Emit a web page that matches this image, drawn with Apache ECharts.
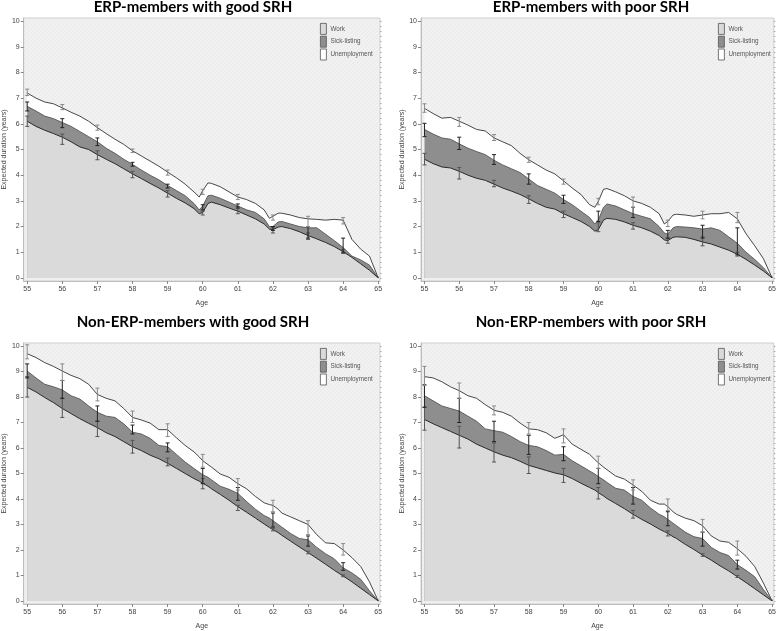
<!DOCTYPE html>
<html><head><meta charset="utf-8">
<script src="https://cdn.jsdelivr.net/npm/echarts@6/dist/echarts.min.js"></script>
<style>html,body{margin:0;padding:0;background:#fff}#c{width:779px;height:631px}</style>
</head><body><div id="c"></div>
<script>
// ---------- data ----------
const ages = [55,55.25,55.5,55.75,56,56.25,56.5,56.75,57,57.25,57.5,57.75,58,58.25,58.5,58.75,59,59.25,59.5,59.75,59.9,60,60.15,60.25,60.5,60.75,61,61.25,61.5,61.75,61.9,62,62.15,62.25,62.5,62.75,63,63.25,63.5,63.75,64,64.25,64.5,64.75,65];
const errAges = [55,56,57,58,59,60,61,62,63,64];
const xTickLabels = [55,56,57,58,59,60,61,62,63,64,65];
const yTickLabels = [0,1,2,3,4,5,6,7,8,9,10];
const titles = ['ERP-members with good SRH','ERP-members with poor SRH','Non-ERP-members with good SRH','Non-ERP-members with poor SRH'];
const stateNames = ['Work','Sick-listing','Unemployment'];

// cumulative curves: Work, Work+Sick-listing, Work+Sick-listing+Unemployment
const p1Work  = [6.1,5.9,5.75,5.62,5.48,5.3,5.1,5.0,4.8,4.62,4.45,4.25,4.05,3.87,3.68,3.5,3.3,3.1,2.92,2.7,2.5,2.55,2.9,2.95,2.85,2.72,2.6,2.45,2.3,2.1,1.9,1.88,1.98,2.0,1.92,1.8,1.65,1.52,1.38,1.22,1.02,0.8,0.55,0.3,0];
const p1Sick  = [6.68,6.5,6.3,6.2,6.05,5.9,5.7,5.5,5.3,5.05,4.85,4.62,4.42,4.2,4.0,3.82,3.6,3.4,3.2,2.9,2.65,2.8,3.2,3.22,3.1,2.95,2.8,2.65,2.55,2.3,2.0,2.0,2.18,2.2,2.1,2.0,1.95,1.95,1.7,1.45,1.18,0.85,0.7,0.5,0];
const p1Unemp = [7.2,7.0,6.85,6.78,6.62,6.45,6.3,6.1,5.85,5.62,5.4,5.2,4.95,4.75,4.55,4.35,4.12,3.9,3.65,3.35,3.15,3.4,3.7,3.68,3.55,3.35,3.15,3.05,2.9,2.65,2.32,2.4,2.52,2.52,2.45,2.35,2.3,2.28,2.25,2.28,2.25,1.5,1.12,0.85,0];

const p2Work  = [4.62,4.45,4.32,4.28,4.15,4.0,3.88,3.8,3.65,3.5,3.38,3.25,3.08,2.9,2.75,2.68,2.5,2.35,2.2,2.0,1.82,1.88,2.25,2.32,2.28,2.18,2.05,1.95,1.82,1.65,1.48,1.45,1.58,1.6,1.58,1.5,1.4,1.32,1.2,1.08,0.92,0.72,0.5,0.27,0];
const p2Sick  = [5.78,5.6,5.45,5.4,5.22,5.05,4.92,4.8,4.58,4.4,4.25,4.1,3.85,3.6,3.45,3.3,3.05,2.85,2.6,2.35,2.1,2.25,2.75,2.88,2.8,2.65,2.5,2.4,2.3,2.0,1.75,1.7,1.95,2.0,1.98,1.95,1.9,1.95,1.85,1.6,1.35,1.0,0.72,0.4,0];
const p2Unemp = [6.6,6.4,6.22,6.25,6.1,5.95,5.78,5.72,5.45,5.3,5.15,4.85,4.6,4.4,4.2,4.05,3.78,3.5,3.25,2.85,2.75,2.98,3.45,3.48,3.35,3.2,3.0,2.9,2.75,2.5,2.1,2.2,2.45,2.48,2.45,2.4,2.45,2.5,2.5,2.55,2.3,1.72,1.25,0.75,0];

const p3Work  = [8.38,8.2,7.98,7.78,7.55,7.35,7.15,6.97,6.8,6.6,6.45,6.25,6.05,5.9,5.72,5.58,5.4,5.2,5.0,4.8,4.7,4.62,4.5,4.4,4.18,3.95,3.7,3.48,3.25,3.02,2.88,2.8,2.68,2.58,2.35,2.12,1.9,1.67,1.44,1.2,0.98,0.75,0.5,0.25,0];
const p3Sick  = [9.02,8.75,8.5,8.4,8.28,8.05,7.92,7.65,7.4,7.25,7.2,6.95,6.62,6.55,6.38,6.1,6.05,5.75,5.45,5.2,5.05,4.95,4.85,4.75,4.5,4.38,4.22,3.9,3.6,3.35,3.25,3.15,3.0,2.9,2.65,2.45,2.4,2.1,1.85,1.65,1.3,1.1,0.85,0.4,0];
const p3Unemp = [9.7,9.55,9.35,9.2,9.02,8.85,8.72,8.5,8.1,7.95,7.85,7.55,7.2,7.1,6.98,6.72,6.72,6.4,6.1,5.85,5.65,5.5,5.35,5.25,4.98,4.85,4.6,4.4,4.1,3.85,3.78,3.75,3.6,3.45,3.3,3.15,3.0,2.6,2.28,2.25,2.0,1.7,1.35,0.75,0];

const p4Work  = [7.12,6.95,6.8,6.65,6.5,6.35,6.15,6.0,5.85,5.72,5.62,5.48,5.32,5.22,5.12,5.02,4.95,4.8,4.62,4.45,4.35,4.25,4.12,4.02,3.82,3.62,3.4,3.2,3.02,2.82,2.72,2.65,2.52,2.45,2.22,2.02,1.8,1.6,1.38,1.18,0.95,0.72,0.48,0.24,0];
const p4Sick  = [8.05,7.85,7.65,7.55,7.45,7.25,7.05,6.75,6.68,6.62,6.45,6.25,6.1,6.05,5.9,5.72,5.75,5.5,5.3,5.1,4.98,4.88,4.75,4.65,4.42,4.35,4.1,3.95,3.65,3.4,3.3,3.2,3.05,2.95,2.7,2.52,2.45,2.1,1.9,1.78,1.42,1.2,0.95,0.45,0];
const p4Unemp = [8.8,8.75,8.6,8.4,8.25,8.05,7.95,7.7,7.48,7.4,7.25,6.98,6.75,6.72,6.6,6.38,6.52,6.15,5.95,5.75,5.55,5.42,5.25,5.15,4.9,4.78,4.55,4.3,3.95,3.8,3.8,3.7,3.5,3.4,3.25,3.15,2.95,2.55,2.35,2.3,2.05,1.75,1.35,0.7,0];

// error bars [low, high] at errAges
const p1WorkErr  = [[5.9,6.3],[5.2,5.6],[4.6,4.95],[3.9,4.15],[3.15,3.4],[2.45,2.6],[2.5,2.78],[1.75,1.95],[1.5,1.75],[0.95,1.1]];
const p1SickErr  = [[6.5,6.85],[5.85,6.2],[5.15,5.45],[4.35,4.5],[3.5,3.65],[2.65,2.85],[2.72,2.88],[1.85,2.0],[1.55,2.0],[1.0,1.55]];
const p1UnempErr = [[7.1,7.35],[6.55,6.75],[5.75,5.95],[4.88,5.02],[4.0,4.2],[3.25,3.45],[3.05,3.25],[2.25,2.45],[2.0,2.4],[2.1,2.35]];
const p2WorkErr  = [[4.4,4.85],[3.85,4.3],[3.55,3.8],[2.9,3.2],[2.35,2.6],[1.8,2.15],[1.9,2.15],[1.35,1.55],[1.25,1.6],[0.85,1.0]];
const p2SickErr  = [[5.5,6.02],[5.0,5.48],[4.42,4.8],[3.65,4.05],[2.9,3.22],[2.2,2.6],[2.35,2.75],[1.55,1.85],[1.55,2.05],[0.9,1.95]];
const p2UnempErr = [[6.45,6.78],[5.9,6.25],[5.35,5.58],[4.5,4.7],[3.65,3.85],[2.85,3.1],[2.75,3.15],[2.0,2.25],[2.3,2.6],[2.15,2.55]];
const p3WorkErr  = [[8.0,8.8],[7.2,7.95],[6.45,7.05],[5.8,6.3],[5.3,5.6],[4.4,4.8],[3.55,3.75],[2.75,2.85],[1.85,1.95],[0.95,1.02]];
const p3SickErr  = [[8.75,9.3],[7.95,8.65],[7.05,7.65],[6.55,6.9],[5.85,6.2],[4.6,5.2],[3.95,4.45],[2.9,3.45],[2.15,2.55],[1.2,1.5]];
const p3UnempErr = [[9.5,10.05],[8.65,9.3],[7.85,8.35],[7.0,7.45],[6.45,6.95],[5.25,5.75],[4.35,4.8],[3.5,3.95],[2.6,3.15],[1.8,2.25]];
const p4WorkErr  = [[6.7,7.6],[6.0,6.85],[5.45,6.2],[5.0,5.65],[4.65,5.2],[4.0,4.45],[3.25,3.55],[2.55,2.75],[1.75,1.85],[0.92,1.0]];
const p4SickErr  = [[7.6,8.48],[7.0,7.95],[6.25,7.05],[5.75,6.5],[5.5,6.05],[4.6,5.2],[3.8,4.45],[2.95,3.5],[2.15,2.7],[1.25,1.6]];
const p4UnempErr = [[8.45,9.2],[7.95,8.55],[7.3,7.65],[6.55,7.0],[6.2,6.75],[5.2,5.68],[4.35,4.75],[3.55,4.0],[2.7,3.2],[1.8,2.35]];

// ---------- build ----------
const panels = [
  {curves:[p1Work,p1Sick,p1Unemp], errs:[p1WorkErr,p1SickErr,p1UnempErr]},
  {curves:[p2Work,p2Sick,p2Unemp], errs:[p2WorkErr,p2SickErr,p2UnempErr]},
  {curves:[p3Work,p3Sick,p3Unemp], errs:[p3WorkErr,p3SickErr,p3UnempErr]},
  {curves:[p4Work,p4Sick,p4Unemp], errs:[p4WorkErr,p4SickErr,p4UnempErr]}
];
const gridPos = [
  {left:22, top:18, width:358, height:263},
  {left:421, top:18, width:355, height:263},
  {left:22, top:343, width:358, height:264},
  {left:421, top:343, width:355, height:264}
];
const titlePos = [{x:193,y:0},{x:591,y:0},{x:193,y:315},{x:591,y:315}];
const legendPos = [{x:320,y:23},{x:718,y:23},{x:320,y:348},{x:718,y:348}];

const fillColors = ['#dadada','#8e8e8e','#ffffff'];
const lineColors = ['#2a2a2a','#555555','#333333'];
const errColors  = ['#555555','#222222','#8a8a8a'];

const minorX = []; for (let v = 55; v <= 65.0001; v += 0.2) minorX.push(+v.toFixed(1));
const minorY = []; for (let v = 0; v <= 10.0001; v += 0.2) minorY.push(+v.toFixed(1));

function bgPattern(){
  const c = document.createElement('canvas'); c.width = 4; c.height = 4;
  const g = c.getContext('2d');
  g.fillStyle = '#f1f1f1'; g.fillRect(0,0,4,4);
  g.fillStyle = '#eaeaea';
  for (let i=0;i<4;i++) g.fillRect(i,3-i,1,1);
  return {image:c, repeat:'repeat'};
}
const pat = bgPattern();

function errRender(params, api){
  const x = api.value(0), lo = api.value(1), hi = api.value(2);
  const a = api.coord([x, lo]), b = api.coord([x, hi]);
  const w = 2;
  const st = {stroke: api.visual('color'), lineWidth: 1};
  return {type:'group', children:[
    {type:'line', shape:{x1:a[0],y1:a[1],x2:b[0],y2:b[1]}, style:st},
    {type:'line', shape:{x1:a[0]-w,y1:a[1],x2:a[0]+w,y2:a[1]}, style:st},
    {type:'line', shape:{x1:b[0]-w,y1:b[1],x2:b[0]+w,y2:b[1]}, style:st}
  ]};
}

const grid = [], xAxis = [], yAxis = [], series = [], title = [], legend = [];
const labelFont = {fontFamily:'Liberation Sans, Arial, sans-serif', fontSize:7, color:'#444'};

panels.forEach((p, i) => {
  grid.push(Object.assign({show:true, backgroundColor:pat, borderColor:'#cfcfcf', borderWidth:1, containLabel:false}, gridPos[i]));
  title.push({text:titles[i], left:titlePos[i].x, top:titlePos[i].y, textAlign:'center', padding:0,
    textStyle:{fontFamily:'Lato, "Open Sans", sans-serif', fontWeight:'bold', fontSize:15, color:'#000'}});
  legend.push({
    orient:'vertical', left:legendPos[i].x, top:legendPos[i].y, padding:0, itemGap:1,
    itemWidth:6, itemHeight:11, icon:'rect', selectedMode:false,
    textStyle:{fontFamily:'Liberation Sans, Arial, sans-serif', fontSize:6.3, color:'#555', padding:[0,0,0,-1]},
    data:stateNames.map((n,k)=>({name:n, itemStyle:{color:fillColors[k], borderColor:'#555', borderWidth:0.8}}))
  });
  const xi = xAxis.length, yi = yAxis.length;
  xAxis.push({type:'value', gridIndex:i, min:54.9, max:65.05, name:'Age', nameLocation:'middle', nameGap:19,
    nameTextStyle:labelFont,
    axisLine:{show:true, onZero:false, lineStyle:{color:'#bdbdbd', width:1}},
    axisTick:{show:true, customValues:xTickLabels, length:3, lineStyle:{color:'#888'}},
    axisLabel:{show:true, customValues:xTickLabels, margin:5, ...labelFont},
    splitLine:{show:false}});
  xAxis.push({type:'value', gridIndex:i, min:54.9, max:65.05,
    axisLine:{show:false}, axisLabel:{show:false}, splitLine:{show:false},
    axisTick:{show:true, customValues:minorX, length:1.5, lineStyle:{color:'#999'}}});
  yAxis.push({type:'value', gridIndex:i, min:-0.12, max:10.12, name:'Expected duration (years)', nameLocation:'middle', nameGap:14,
    nameTextStyle:labelFont,
    axisLine:{show:true, onZero:false, lineStyle:{color:'#bdbdbd', width:1}},
    axisTick:{show:true, customValues:yTickLabels, length:3, lineStyle:{color:'#888'}},
    axisLabel:{show:true, customValues:yTickLabels, margin:4, ...labelFont},
    splitLine:{show:false}});
  yAxis.push({type:'value', gridIndex:i, min:-0.12, max:10.12,
    axisLine:{show:false}, axisLabel:{show:false}, splitLine:{show:false},
    axisTick:{show:true, customValues:minorY, length:1.5, lineStyle:{color:'#aaa'}}});

  // areas: top first so lower ones paint over
  [2,1,0].forEach(k => {
    series.push({
      type:'line', name:stateNames[k], xAxisIndex:xi, yAxisIndex:yi,
      data: ages.map((a,j)=>[a, p.curves[k][j]]),
      symbol:'none', smooth:false, z:2+(2-k)*0.1,
      lineStyle:{color:lineColors[k], width:k===0?1:0.9},
      itemStyle:{color:fillColors[k]},
      areaStyle:{color:fillColors[k], opacity:1, origin:0},
      emphasis:{disabled:true}, silent:true
    });
  });
  [0,1,2].forEach(k => {
    series.push({
      type:'custom', name:stateNames[k]+' CI '+(i+1), xAxisIndex:xi, yAxisIndex:yi,
      renderItem:errRender, z:5, silent:true,
      itemStyle:{color:errColors[k]},
      encode:{x:0, y:[1,2]},
      data: errAges.map((a,j)=>[a, p.errs[k][j][0], p.errs[k][j][1]])
    });
  });
});

const chart = echarts.init(document.getElementById('c'), null, {renderer:'canvas'});
chart.setOption({animation:false, backgroundColor:'#fff', title, legend, grid, xAxis, yAxis, series});
</script>
</body></html>
